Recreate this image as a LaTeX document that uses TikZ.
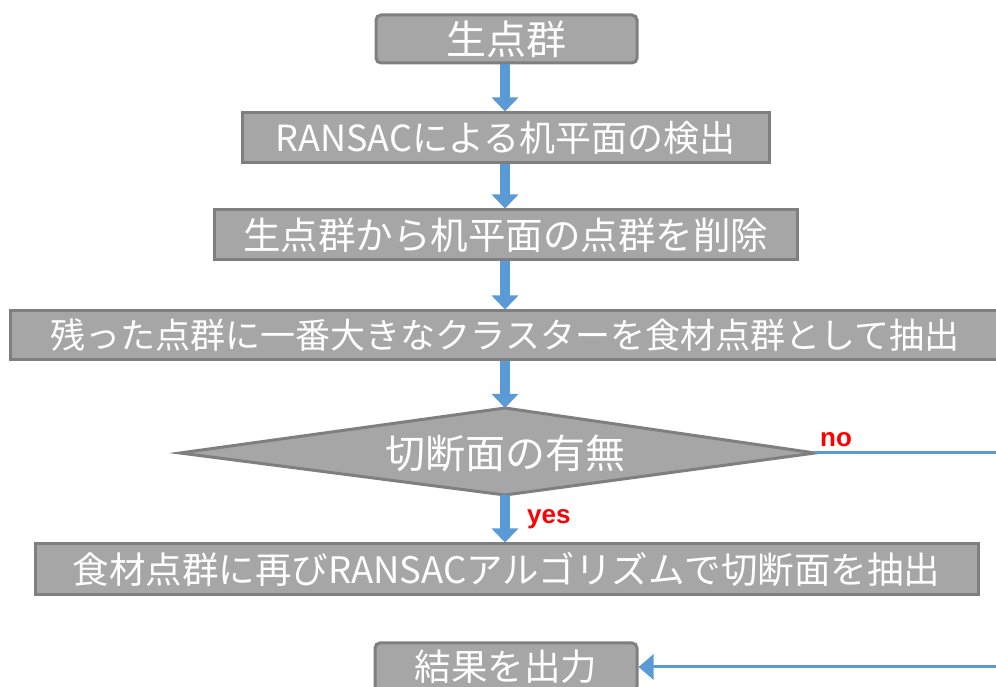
\documentclass[tikz,border=0pt]{standalone}
\usepackage{fontspec}
\setmainfont{Noto Sans CJK JP}
\newfontfamily\labfont{Liberation Sans}
\usetikzlibrary{arrows.meta}
\definecolor{boxfill}{HTML}{A6A6A6}
\definecolor{boxline}{HTML}{7F7F7F}
\definecolor{flowblue}{HTML}{5B9BD5}
\definecolor{labred}{HTML}{FF0000}
\newcommand{\fsz}[1]{\fontsize{#1}{#1}\selectfont}
\begin{document}
\begin{tikzpicture}[x=1pt,y=1pt,
  box/.style={draw=boxline, fill=boxfill, line width=3pt, text=white,
    font=\fsz{35}, inner sep=0pt, anchor=center},
  roundbox/.style={box, rounded corners=5pt},
  flowarrow/.style={draw=flowblue, line width=10pt,
    -{Triangle[width=26pt,length=14pt]}},
  thinline/.style={draw=flowblue, line width=3pt},
  thinarrow/.style={thinline, -{Triangle[width=25pt,length=15pt]}},
  lab/.style={text=labred, font=\labfont\bfseries\fsz{26}, inner sep=0pt, anchor=base west}]
\useasboundingbox (0,0) rectangle (996,687);

\node[roundbox, font=\fsz{40}, minimum width=261pt, minimum height=48pt] (b1) at (506.5,648) {生点群};
\node[box, font=\fsz{36}, minimum width=527pt, minimum height=50pt] (b2) at (505.5,549) {RANSACによる机平面の検出};
\node[box, font=\fsz{37.5}, minimum width=583pt, minimum height=50pt] (b3) at (505.5,452) {生点群から机平面の点群を削除};
\node[box, minimum width=990pt, minimum height=49pt] (b4) at (505,351.5) {残った点群に一番大きなクラスターを食材点群として抽出};

\coordinate (dl) at (180,234);
\coordinate (dt) at (505,279);
\coordinate (dr) at (815,234);
\coordinate (db) at (505,192);
\draw[draw=boxline, fill=boxfill, line width=3pt] (dl) -- (dt) -- (dr) -- (db) -- cycle;
\node[text=white, font=\fsz{40}, inner sep=0pt] (dtext) at (505,234) {切断面の有無};

\node[box, font=\fsz{36.5}, minimum width=943pt, minimum height=51pt] (b5) at (506.5,117.5) {食材点群に再びRANSACアルゴリズムで切断面を抽出};
\node[roundbox, font=\fsz{36.5}, minimum width=262pt, minimum height=48pt] (b6) at (506,20) {結果を出力};

\draw[flowarrow] (b1.south -| 505,0) -- (b2.north -| 505,0);
\draw[flowarrow] (b2.south -| 505,0) -- (b3.north -| 505,0);
\draw[flowarrow] (b3.south -| 505,0) -- (b4.north -| 505,0);
\draw[flowarrow] (b4.south -| 505,0) -- (dt);
\draw[flowarrow] (db) -- (b5.north -| 505,0);

\coordinate (noend) at (996,234);
\draw[thinline] (dr) -- (noend);
\coordinate (retstart) at (996,20);
\draw[thinarrow] (retstart) -- (b6.east);

\node[lab] (nolab) at (820,240) {no};
\node[lab] (yeslab) at (527,163) {yes};
\end{tikzpicture}
\end{document}
